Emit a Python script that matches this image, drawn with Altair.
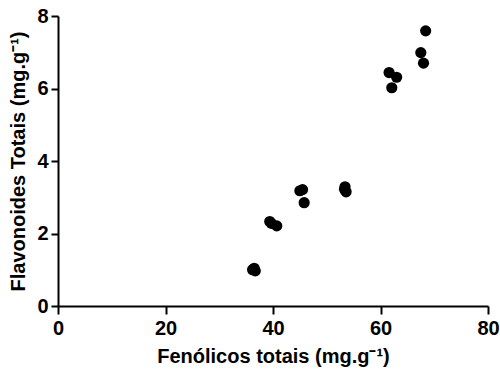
import altair as alt
import pandas as pd

fenolicos = [36.2, 36.5, 36.7, 39.4, 39.7, 40.7, 45.0, 45.5, 45.8, 53.4, 53.6, 53.3, 61.6, 63.0, 62.1, 68.4, 67.5, 68.0]
flavonoides = [1.00, 1.04, 0.97, 2.33, 2.28, 2.21, 3.18, 3.21, 2.85, 3.29, 3.15, 3.22, 6.44, 6.31, 6.02, 7.59, 6.99, 6.70]

df = pd.DataFrame({"x": fenolicos, "y": flavonoides})

FONT = "Liberation Sans"

chart = alt.Chart(df).mark_circle(size=125, color="black", opacity=1).encode(
    x=alt.X("x:Q", scale=alt.Scale(domain=[0, 80], nice=False, zero=True),
            axis=alt.Axis(values=[0, 20, 40, 60, 80], title="Fenólicos totais (mg.g⁻¹)",
                          tickSize=8, titleX=215, titleY=50, labelPadding=4,
                          labelFontSize=20, labelColor="black", labelFontWeight="bold")),
    y=alt.Y("y:Q", scale=alt.Scale(domain=[0, 8], nice=False),
            axis=alt.Axis(values=[0, 2, 4, 6, 8], title="Flavonoides Totais (mg.g⁻¹)",
                          tickSize=7, titleX=-40, titleY=145, titleAngle=270, labelPadding=3,
                          labelFontSize=20, labelColor="black", labelFontWeight="bold")),
).properties(
    width=430, height=290,
    autosize=alt.AutoSizeParams(type="none"),
    padding={"left": 58, "top": 16, "right": 12, "bottom": 66},
    background="white",
).configure_axis(
    grid=False, domainColor="black", domainWidth=2,
    tickColor="black", tickWidth=2, labelFlush=False,
    titleFont=FONT, titleFontSize=20, titleFontWeight="bold",
    titleColor="black", titleBaseline="middle", titleAlign="center",
).configure_view(stroke=None)

chart.save("out.html", embed_options={"renderer": "svg", "actions": False})
